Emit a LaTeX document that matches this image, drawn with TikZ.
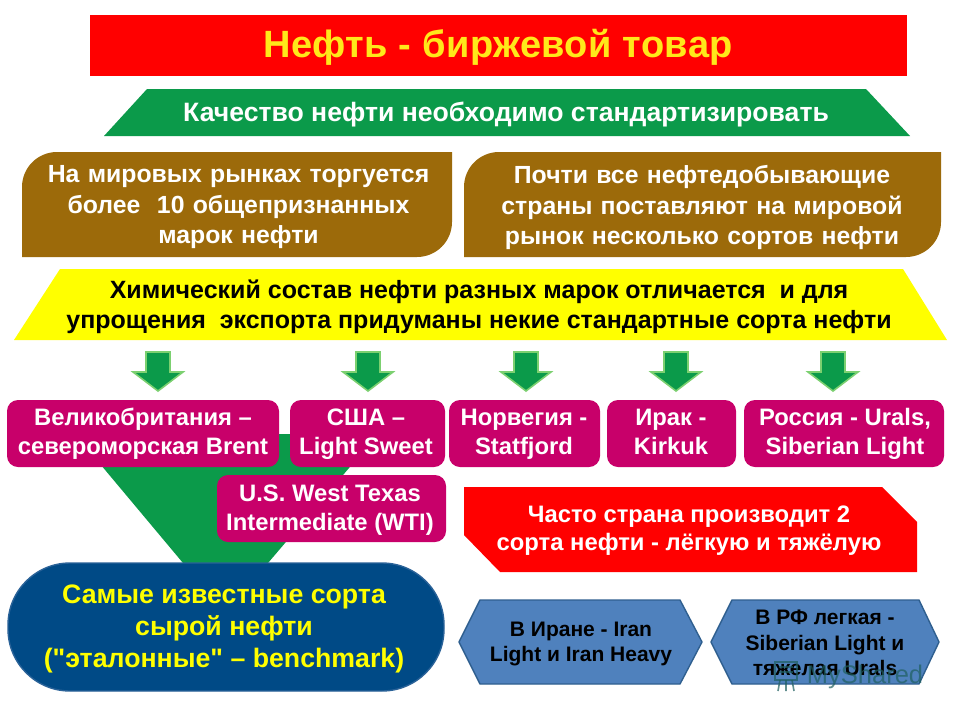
\documentclass[tikz,border=0pt]{standalone}
\usepackage{fontspec}
\setmainfont{Liberation Sans}
\newfontfamily\plainf{Liberation Sans}
\newcommand{\vf}{\vphantom{Щgl}}
\definecolor{cRed}{HTML}{FF0000}
\definecolor{cGreen}{HTML}{0B9A4A}
\definecolor{cBrown}{HTML}{9C6A0A}
\definecolor{cMag}{HTML}{C8006A}
\definecolor{cNavy}{HTML}{004A86}
\definecolor{cNavyE}{HTML}{2A6298}
\definecolor{cBlue}{HTML}{4F81BD}
\definecolor{cBlueE}{HTML}{2F5F8F}
\definecolor{cYel}{HTML}{FFFF00}
\definecolor{cTitle}{HTML}{FFE81A}
\definecolor{cArrE}{HTML}{7CD070}
\definecolor{cMark}{HTML}{1F5F5F}
\tikzset{
  txt/.style={align=center,inner sep=0pt,font=\bfseries\fontsize{#1}{#1}\selectfont},
  wtxt/.style={txt=#1,text=white},
  ktxt/.style={txt=#1,text=black},
  tipArrow/.pic={\draw[fill=cGreen,draw=cArrE,line width=1.6pt,line join=miter]
     (-12,-19)--(12,-19)--(12,1)--(25,1)--(0,20)--(-25,1)--(-12,1)--cycle;},
  magbox/.style={fill=cMag,rounded corners=11pt,draw=none},
  hexa/.style={fill=cBlue,draw=cBlueE,line width=1.4pt,line join=round},
}
\begin{document}
\begin{tikzpicture}[x=1pt,y=-1pt]
\useasboundingbox (0,0) rectangle (960,720);
\fill[white] (0,0) rectangle (960,720);
% title
\fill[cRed] (90,15) rectangle (907,76);
\node[txt=38,text=cTitle] (title) at (498,47) {\addfontfeature{LetterSpace=1}Нефть - биржевой товар};
% green banner
\fill[cGreen] (104,136)--(147,89)--(866,89)--(910,136)--cycle;
\node[wtxt=26.6] (quality) at (506,115) {Качество нефти необходимо стандартизировать};
% brown boxes
\fill[cBrown] (22,257)--(22,187) arc[start angle=180,end angle=270,radius=35] --(452,152)--(452,222) arc[start angle=0,end angle=90,radius=35] --cycle;
\fill[cBrown] (464,257)--(464,187) arc[start angle=180,end angle=270,radius=35] --(941,152)--(941,222) arc[start angle=0,end angle=90,radius=35] --cycle;
\node[wtxt=24.8,text width=420pt,font=\bfseries\fontsize{24.8}{30.5}\selectfont] (markets) at (238.5,207.5) {На мировых рынках торгуется\\более\ \ 10 общепризнанных\\марок нефти};
\node[wtxt=24.8,text width=470pt,font=\bfseries\fontsize{24.8}{30.5}\selectfont] (countries) at (702,207.5) {Почти все нефтедобывающие\\страны поставляют на мировой\\рынок несколько сортов нефти};
% yellow
\fill[cYel] (14,340)--(60,269)--(903,269)--(947,340)--cycle;
\node[ktxt=25,font=\bfseries\fontsize{25}{30}\selectfont] (chem) at (479,307) {Химический состав нефти разных марок отличается\ \ и для\\упрощения\ \ экспорта придуманы некие стандартные сорта нефти};
% arrows
\foreach \nm/\xx in {a1/158,a2/368,a3/526,a4/676,a5/833}{
  \path (\xx,371) pic (\nm) {tipArrow};
}
% funnel
\fill[cGreen] (75,434)--(378,434)--(268,563)--(183,563)--cycle;
% magenta boxes
\fill[magbox] (7,400) rectangle (279,467);
\fill[magbox] (290,400) rectangle (445,467);
\fill[magbox] (449,400) rectangle (600,467);
\fill[magbox] (607,400) rectangle (736,467);
\fill[magbox] (744,400) rectangle (944,467);
\fill[magbox] (217,475) rectangle (446,542);
\tikzset{mt/.style={wtxt=23.8,font=\bfseries\fontsize{23.8}{29}\selectfont}}
\node[mt] (uk) at (143,434) {\vf Великобритания –\\\vf североморская Brent};
\node[mt] (usa) at (366,434) {\vf США –\\\vf Light Sweet};
\node[mt] (nor) at (524,434) {\vf Норвегия -\\\vf Statfjord};
\node[mt] (irq) at (671,434) {\vf Ирак -\\\vf Kirkuk};
\node[mt] (rus) at (845,434) {\vf Россия - Urals,\\\vf Siberian Light};
\node[mt] (wti) at (330,510) {\vf U.S. West Texas\\\vf Intermediate (WTI)};
% navy pill
\draw[fill=cNavy,draw=cNavyE,line width=1.4pt,rounded corners=62pt] (8,563) rectangle (444,691);
\node[txt=26.7,text=cYel,font=\plainf\bfseries\fontsize{26.7}{32}\selectfont] (famous) at (224,629) {Самые известные сорта\\сырой нефти\\("эталонные" – benchmark)};
% red note
\fill[cRed] (464,487)--(882,487)--(917,522)--(917,572)--(500,572)--(464,535)--cycle;
\node[wtxt=23.8,font=\bfseries\fontsize{23.8}{28}\selectfont] (often) at (689,531) {Часто страна производит 2\\сорта нефти - лёгкую и тяжёлую};
% hexagons
\draw[hexa] (459,642)--(480,600)--(680,600)--(702,642)--(680,684)--(480,684)--cycle;
\draw[hexa] (711,642)--(732,600)--(919,600)--(939,642)--(919,684)--(732,684)--cycle;
\node[ktxt=21,font=\bfseries\fontsize{21}{25}\selectfont] (iran) at (581,644) {В Иране - Iran\\Light и Iran Heavy};
\node[ktxt=21,font=\bfseries\fontsize{21}{25.5}\selectfont] (rf) at (825,643) {В РФ легкая -\\Siberian Light и\\тяжелая Urals};
% watermark
\node[inner sep=0pt,font=\fontsize{25.5}{25.5}\selectfont,text=cMark,opacity=.7] (mark) at (865,677) {MyShared};
\begin{scope}[draw=cMark,opacity=.7,line width=1.6pt]
\draw (775,662) rectangle (797,680);
\draw (780,680)--(778,691) (786,680)--(786,691) (792,680)--(794,691);
\draw (779,667)--(793,667) (779,672)--(793,672);
\end{scope}
\end{tikzpicture}
\end{document}
